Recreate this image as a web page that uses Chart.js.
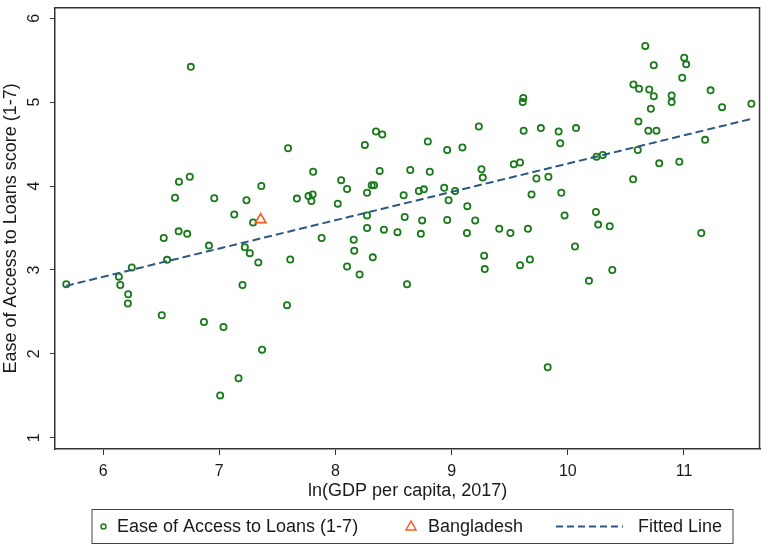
<!DOCTYPE html>
<html>
<head>
<meta charset="utf-8">
<script src="https://cdn.jsdelivr.net/npm/chart.js@4/dist/chart.umd.min.js"></script>
<style>
  html, body { margin: 0; padding: 0; background: #fff; }
  #wrap { width: 768px; height: 546px; }
</style>
</head>
<body>
<div id="wrap"><canvas id="scatterChart" width="768" height="546"></canvas></div>
<script>
// ln(GDP per capita, 2017) and ease-of-access scores
const loanX = [
  6.755, 7.592, 6.746, 6.653, 7.362, 6.619, 6.957, 7.234, 7.668, 7.129,
  7.291, 6.650, 6.724, 6.522, 6.911, 7.220, 7.263, 7.336, 7.611, 6.551,
  6.247, 5.683, 6.136, 6.148, 6.216, 6.213, 7.200, 7.583, 6.505, 6.868,
  7.036, 7.368, 7.166, 7.008,
  9.617, 9.612, 9.234, 9.620, 8.349, 8.403, 8.795, 8.253, 9.093, 8.962,
  7.808, 8.381, 8.644, 8.812, 9.257, 9.268, 9.535, 9.589, 8.049, 8.100,
  8.312, 8.332, 8.272, 7.768, 7.804, 7.793, 8.020, 8.587, 8.718, 8.761,
  8.936, 9.030, 8.974, 9.135, 9.730, 9.688, 8.272, 8.596, 8.746, 8.962,
  9.203, 8.272, 8.417, 8.534, 8.735, 9.132, 9.410, 9.506, 9.657, 7.881,
  8.157, 8.162, 8.100, 8.321, 8.208, 8.616, 9.280, 9.285, 9.589, 9.674,
  10.667, 11.002, 11.019, 10.740, 10.985, 10.565, 10.613, 10.701, 11.229, 10.740,
  10.894, 10.894, 10.715, 11.328, 11.580, 10.608, 10.693, 10.763, 9.768, 9.921,
  10.071, 9.935, 11.182, 10.602, 10.247, 10.301, 10.960, 10.787, 10.562, 9.833,
  9.944, 9.972, 10.242, 10.261, 10.361, 11.149, 10.062, 10.182, 10.383, 9.827
];
const loanY = [
  5.42, 4.45, 4.11, 4.05, 4.00, 3.86, 3.855, 3.83, 3.85, 3.66,
  3.565, 3.46, 3.43, 3.38, 3.29, 3.27, 3.20, 3.09, 3.125, 3.12,
  3.03, 2.83, 2.92, 2.82, 2.71, 2.60, 2.82, 2.58, 2.46, 2.38,
  2.32, 2.05, 1.71, 1.505,
  5.05, 5.00, 4.71, 4.66, 4.65, 4.615, 4.53, 4.49, 4.46, 4.43,
  4.17, 4.18, 4.19, 4.17, 4.20, 4.10, 4.26, 4.28, 4.07, 3.965,
  4.01, 4.01, 3.92, 3.88, 3.90, 3.82, 3.79, 3.89, 3.94, 3.96,
  3.98, 3.94, 3.83, 3.76, 4.09, 3.90, 3.65, 3.63, 3.59, 3.595,
  3.59, 3.50, 3.48, 3.45, 3.43, 3.44, 3.49, 3.44, 3.49, 3.38,
  3.36, 3.23, 3.04, 3.15, 2.945, 2.83, 3.17, 3.01, 3.055, 3.125,
  5.67, 5.53, 5.45, 5.44, 5.29, 5.21, 5.16, 5.15, 5.14, 5.07,
  5.08, 5.00, 4.92, 4.94, 4.98, 4.77, 4.66, 4.66, 4.69, 4.65,
  4.69, 4.51, 4.55, 4.43, 4.35, 4.37, 4.29, 4.27, 4.08, 4.11,
  3.92, 3.65, 3.69, 3.54, 3.52, 3.44, 3.28, 2.87, 3.00, 1.84
];
const bangladeshX = [7.356];
const bangladeshY = [3.60];
// fitted line end points
const fitX = [5.68, 11.58];
const fitY = [2.81, 4.80];

const xTicks = [6, 7, 8, 9, 10, 11];
const yTicks = [1, 2, 3, 4, 5, 6];
const seriesLabels = ['Ease of Access to Loans (1-7)', 'Bangladesh', 'Fitted Line'];
const xTitle = 'ln(GDP per capita, 2017)';
const yTitle = 'Ease of Access to Loans score (1-7)';

const GREEN = '#1b7a1b';
const ORANGE = '#f85a22';
const NAVY = '#2d5886';
const AXIS = '#333';

const toPoints = (xs, ys) => xs.map((x, i) => ({ x: x, y: ys[i] }));

// frame on top/right plus the boxed legend under the axis title
const framePlugin = {
  id: 'frameAndLegend',
  afterDraw(chart) {
    const { ctx, chartArea: a } = chart;
    ctx.save();
    ctx.strokeStyle = AXIS;
    ctx.lineWidth = 1.5;
    ctx.beginPath();
    ctx.moveTo(a.left, a.top);
    ctx.lineTo(a.right - 0.75, a.top);
    ctx.lineTo(a.right - 0.75, a.bottom);
    ctx.stroke();

    // legend box
    const bx = 92, by = 509.5, bw = 641, bh = 34;
    const cy = by + bh / 2;
    ctx.lineWidth = 1;
    ctx.strokeStyle = '#444';
    ctx.strokeRect(bx, by, bw, bh);

    ctx.font = '18px "Liberation Sans", Arial, sans-serif';
    ctx.fillStyle = '#1a1a1a';
    ctx.textBaseline = 'middle';
    ctx.textAlign = 'left';

    // item 1: small circle
    ctx.strokeStyle = GREEN;
    ctx.lineWidth = 1.5;
    ctx.beginPath();
    ctx.arc(103.5, cy, 2.5, 0, Math.PI * 2);
    ctx.stroke();
    ctx.fillText(seriesLabels[0], 117, cy + 1);

    // item 2: triangle
    ctx.strokeStyle = ORANGE;
    ctx.beginPath();
    ctx.moveTo(411, cy - 5.5);
    ctx.lineTo(416, cy + 3.5);
    ctx.lineTo(406, cy + 3.5);
    ctx.closePath();
    ctx.stroke();
    ctx.fillText(seriesLabels[1], 428, cy + 1);

    // item 3: dashed line
    ctx.strokeStyle = NAVY;
    ctx.lineWidth = 2;
    ctx.setLineDash([7, 4]);
    ctx.beginPath();
    ctx.moveTo(556, cy);
    ctx.lineTo(623, cy);
    ctx.stroke();
    ctx.setLineDash([]);
    ctx.fillText(seriesLabels[2], 638, cy + 1);
    ctx.restore();
  }
};

Chart.defaults.font.family = '"Liberation Sans", Arial, sans-serif';
Chart.defaults.color = '#1a1a1a';

const ctx = document.getElementById('scatterChart').getContext('2d');
const chart = new Chart(ctx, {
  type: 'scatter',
  data: {
    datasets: [
      {
        label: seriesLabels[0],
        data: toPoints(loanX, loanY),
        pointStyle: 'circle',
        pointRadius: 3.1,
        borderWidth: 1.8,
        borderColor: GREEN,
        backgroundColor: 'rgba(0,0,0,0)',
        order: 2
      },
      {
        label: seriesLabels[1],
        data: toPoints(bangladeshX, bangladeshY),
        pointStyle: 'triangle',
        pointRadius: 6,
        borderWidth: 1.7,
        borderColor: ORANGE,
        backgroundColor: 'rgba(0,0,0,0)',
        order: 1
      },
      {
        type: 'line',
        label: seriesLabels[2],
        data: toPoints(fitX, fitY),
        borderColor: NAVY,
        borderWidth: 2,
        borderDash: [8, 4],
        pointRadius: 0,
        fill: false,
        order: 0
      }
    ]
  },
  options: {
    responsive: false,
    animation: false,
    devicePixelRatio: 1,
    layout: { padding: { top: 2, right: 0, bottom: 44, left: 0 } },
    plugins: {
      legend: { display: false },
      tooltip: { enabled: false }
    },
    scales: {
      x: {
        type: 'linear',
        min: 5.586,
        max: 11.657,
        afterBuildTicks: s => { s.ticks = xTicks.map(v => ({ value: v })); },
        afterFit: s => { s.height = 53; s.paddingLeft = 0; s.paddingRight = 0; },
        ticks: { padding: 7, font: { size: 16 }, color: '#1a1a1a', maxRotation: 0 },
        grid: { drawOnChartArea: false, tickLength: 6, color: AXIS, lineWidth: 1 },
        border: { color: AXIS, width: 1.5 },
        title: { display: true, text: xTitle, font: { size: 18 }, padding: { top: 0, bottom: 0 }, color: '#1a1a1a' }
      },
      y: {
        type: 'linear',
        min: 0.866,
        max: 6.125,
        afterBuildTicks: s => { s.ticks = yTicks.map(v => ({ value: v })); },
        afterFit: s => { s.width = 55; s.paddingTop = 0; s.paddingBottom = 0; },
        ticks: { minRotation: 90, maxRotation: 90, crossAlign: 'center', padding: 11, font: { size: 16 }, color: '#1a1a1a' },
        grid: { drawOnChartArea: false, tickLength: 5, color: AXIS, lineWidth: 1 },
        border: { color: AXIS, width: 1.5 },
        title: { display: true, text: yTitle, font: { size: 18 }, padding: { top: 0, bottom: 0 }, color: '#1a1a1a' }
      }
    }
  },
  plugins: [framePlugin]
});
</script>
</body>
</html>
